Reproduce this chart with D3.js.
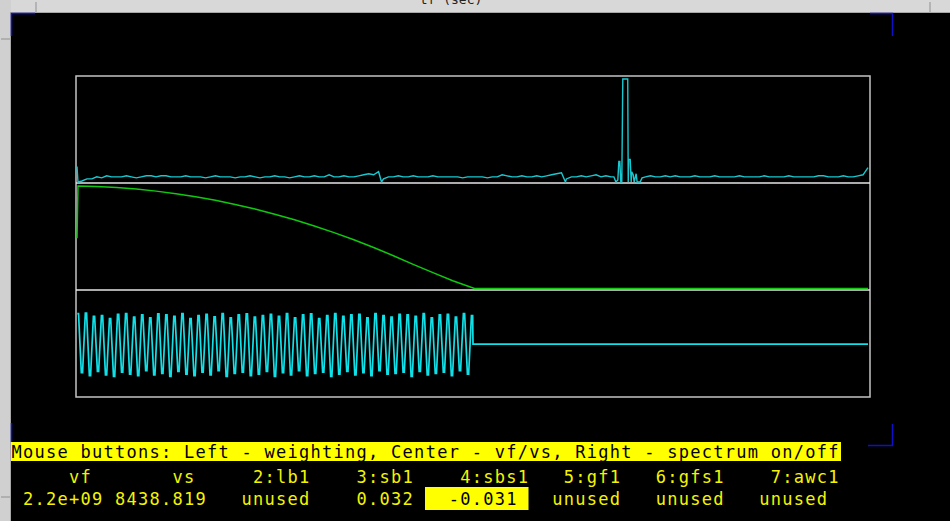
<!DOCTYPE html>
<html>
<head>
<meta charset="utf-8">
<script src="https://cdn.jsdelivr.net/npm/d3@7"></script>
<style>
  body { margin: 0; background: #000; }
  svg { display: block; }
</style>
</head>
<body>
<svg id="chart" width="950" height="521"></svg>
<script>
// spectrum (top panel), amplitude per frequency bin, null = covered by the peak list
var specNoise = [
  0.15,0.01,0.03,0.03,0.05,0.04,0.06,0.05,0.05,0.05,0.06,0.05,0.04,0.05,0.06,0.06,0.05,0.06,0.06,0.05,
  0.05,0.05,0.06,0.05,0.05,0.05,0.04,0.05,0.06,0.05,0.05,0.05,0.04,0.05,0.05,0.06,0.05,0.04,0.05,0.05,
  0.06,0.05,0.05,0.04,0.05,0.06,0.05,0.05,0.06,0.05,0.05,0.07,0.05,0.05,0.06,0.05,0.05,0.06,0.07,0.08,
  0.07,0.10,0.03,0.05,0.05,0.06,0.05,0.05,0.06,0.05,0.05,0.05,0.06,0.05,0.05,0.05,0.05,0.05,0.04,0.05,
  0.05,0.05,0.05,0.04,0.05,0.05,0.07,0.06,0.05,0.05,0.06,0.05,0.05,0.06,0.05,0.06,0.07,0.08,0.09,0.03,
  0.05,0.05,0.06,0.05,0.06,0.07,0.05,0.06,0.05,null,null,null,null,null,null,0.05,0.06,0.05,0.05,0.06,
  0.05,0.06,0.05,0.05,0.05,0.06,0.05,0.05,0.05,0.06,0.05,0.05,0.05,0.05,0.06,0.05,0.05,0.05,0.05,0.06,
  0.05,0.05,0.05,0.05,0.06,0.05,0.05,0.05,0.05,0.05,0.06,0.06,0.05,0.05,0.05,0.06,0.05,0.05,0.06,0.07,
  0.14
];
// extra spectrum points (fractional bins): drop-outs and the peak cluster
var specExtraBins = [0.2, 61.6, 98.8,
  108.6, 109.0, 109.4, 109.6, 109.8, 110.0, 110.2, 110.4, 111.4, 111.5, 111.6, 111.9,
  112.1, 112.2, 112.5, 112.7, 113.1, 113.3, 113.9, 114.3];
var specExtraAmps = [0.0, 0.0, 0.0,
  0.05, 0.0, 0.02, 0.20, 0.20, 0.0, 0.0, 1.0, 1.0, 0.0, 0.22, 0.22,
  0.0, 0.10, 0.07, 0.0, 0.08, 0.0, 0.0, 0.04];

// weighting curve (middle panel)
var gainT = [0, 0.2, 4, 8, 12, 16, 20, 24, 28, 32, 36, 40, 44, 48, 52, 56, 60, 64, 68, 72, 76, 80.4, 160];
var gainV = [0.49, 1.0, 0.995, 0.985, 0.97, 0.95, 0.925, 0.895, 0.86, 0.82, 0.775, 0.725, 0.67,
  0.61, 0.545, 0.475, 0.40, 0.32, 0.235, 0.155, 0.075, 0, 0];

// weighted signal (bottom panel): alternating peaks / troughs, then flat
var oscStart = 0.06, oscPeriod = 1.627, oscTop = 0.25, oscEnd = 80.1, oscFlat = -0.02;
var oscPeaks = [0.84,0.85,0.76,0.78,0.70,0.82,0.84,0.74,0.80,0.72,
  0.83,0.80,0.76,0.84,0.70,0.78,0.82,0.75,0.84,0.72,
  0.80,0.83,0.74,0.78,0.82,0.76,0.84,0.72,0.80,0.83,
  0.70,0.78,0.84,0.76,0.80,0.82,0.72,0.84,0.78,0.74,
  0.82,0.80,0.76,0.84,0.72,0.80,0.82,0.74,0.84,0.78];
var oscTroughs = [-0.82,-0.90,-0.78,-0.88,-0.92,-0.80,-0.86,-0.90,-0.76,-0.88,
  -0.84,-0.92,-0.78,-0.86,-0.90,-0.80,-0.88,-0.76,-0.92,-0.84,
  -0.80,-0.90,-0.86,-0.78,-0.92,-0.82,-0.88,-0.76,-0.90,-0.84,
  -0.80,-0.92,-0.86,-0.78,-0.88,-0.82,-0.90,-0.76,-0.86,-0.84,
  -0.80,-0.92,-0.78,-0.88,-0.84,-0.80,-0.90,-0.76,-0.86];

// text rows
var bannerText = "Mouse buttons: Left - weighting, Center - vf/vs, Right - spectrum on/off";
var headLabels = ["vf", "vs", "2:lb1", "3:sb1", "4:sbs1", "5:gf1", "6:gfs1", "7:awc1"];
var headWidths = [7, 9, 10, 9, 10, 8, 9, 10];
var valLabels = ["2.2e+09", "8438.819", "unused", "0.032", "-0.031", "unused", "unused", "unused"];
var valWidths = [8, 9, 9, 9, 9, 9, 9, 9];
var selectedField = 4;

// layout
var frame = { left: 76, right: 870, top: 76, bottom: 397 },
    panelH = (frame.bottom - frame.top) / 3,
    charW = 11.5, textX0 = 11;

var svg = d3.select("#chart");

// window chrome
svg.append("rect").attr("x", 0).attr("y", 0).attr("width", 950).attr("height", 521).attr("fill", "#000");
svg.append("rect").attr("x", 0).attr("y", 0).attr("width", 950).attr("height", 13).attr("fill", "#d8d8d8");
svg.append("rect").attr("x", 0).attr("y", 0).attr("width", 11).attr("height", 521).attr("fill", "#d0d0d0");
svg.append("line").attr("x1", 11).attr("x2", 950).attr("y1", 12.5).attr("y2", 12.5).attr("stroke", "#a8a8a8");
svg.append("line").attr("x1", 10.5).attr("x2", 10.5).attr("y1", 12).attr("y2", 521).attr("stroke", "#a8a8a8");
[[36, 2, 36, 12], [930, 2, 930, 12], [1, 39, 10, 39], [1, 497, 10, 497]].forEach(function (d) {
  svg.append("line").attr("x1", d[0]).attr("y1", d[1]).attr("x2", d[2]).attr("y2", d[3]).attr("stroke", "#909090");
});
svg.append("text")
  .attr("x", 451).attr("y", 4)
  .attr("text-anchor", "middle")
  .style("font-family", "DejaVu Sans Mono").style("font-size", "13px")
  .attr("fill", "#222")
  .text("tf (sec)");

// blue corner marks
var blue = "#1010c8";
["M11.5,36 V13.5 H35", "M870,13.5 H892.5 V36", "M11.5,423 V442", "M892.5,424 V445.5 H868"].forEach(function (p) {
  svg.append("path").attr("d", p).attr("fill", "none").attr("stroke", blue).attr("stroke-width", 1.5);
});

// scales
var x = d3.scaleLinear().domain([0, 160]).range([77, 868]);
var ySpec = d3.scaleLinear().domain([0, 1]).range([182, 79]);
var yGain = d3.scaleLinear().domain([0, 1]).range([288.5, 186]);
var yOsc = d3.scaleLinear().domain([-1.5, 1.5]).range([frame.bottom, frame.top + 2 * panelH]);

// frame and dividers
svg.append("rect")
  .attr("x", frame.left).attr("y", frame.top)
  .attr("width", frame.right - frame.left).attr("height", frame.bottom - frame.top)
  .attr("fill", "none").attr("stroke", "#c4c4c4").attr("stroke-width", 1.5);
[1, 2].forEach(function (k) {
  svg.append("line")
    .attr("x1", frame.left).attr("x2", frame.right)
    .attr("y1", frame.top + k * panelH).attr("y2", frame.top + k * panelH)
    .attr("stroke", "#e6e6e6").attr("stroke-width", 1.5);
});

var line = d3.line().x(function (d) { return x(d[0]); });

// spectrum
var spec = [];
specNoise.forEach(function (v, i) { if (v !== null) spec.push([i, v]); });
specExtraBins.forEach(function (b, i) { spec.push([b, specExtraAmps[i]]); });
spec.sort(function (a, b) { return a[0] - b[0]; });

svg.append("path")
  .datum(spec)
  .attr("fill", "none")
  .attr("stroke", "#18c8d0")
  .attr("stroke-width", 1.4)
  .attr("d", line.y(function (d) { return ySpec(d[1]); }));

// weighting curve
svg.append("path")
  .datum(d3.zip(gainT, gainV))
  .attr("fill", "none")
  .attr("stroke", "#10c810")
  .attr("stroke-width", 1.5)
  .attr("d", line.y(function (d) { return yGain(d[1]); }));

// oscillation, short flat top/bottom on each extreme
var osc = [];
oscPeaks.forEach(function (p, k) {
  var t = oscStart + k * oscPeriod;
  osc.push([t, p], [t + oscTop, p]);
  if (k < oscTroughs.length) {
    var tt = t + oscPeriod / 2;
    osc.push([tt, oscTroughs[k]], [tt + oscTop, oscTroughs[k]]);
  }
});
osc.push([oscEnd, oscFlat]);
osc.push([160, oscFlat]);

svg.append("path")
  .datum(osc)
  .attr("fill", "none")
  .attr("stroke", "#10e0e8")
  .attr("stroke-width", 1.7)
  .attr("d", line.y(function (d) { return yOsc(d[1]); }));

// text area
var mono = "DejaVu Sans Mono";
svg.append("rect")
  .attr("x", 11).attr("y", 442)
  .attr("width", bannerText.length * charW + 2).attr("height", 19)
  .attr("fill", "#ffff00");
svg.append("text")
  .attr("x", textX0 + 0.5).attr("y", 457.5)
  .attr("textLength", bannerText.length * charW - 1)
  .attr("lengthAdjust", "spacing")
  .style("font-family", mono).style("font-size", "17px")
  .attr("fill", "#000")
  .text(bannerText);

function padRow(labels, widths) {
  return labels.map(function (s, i) { return s.padStart(widths[i], " "); }).join("");
}
var headRow = padRow(headLabels, headWidths);
var valRow = padRow(valLabels, valWidths);

// highlighted field box
var selStart = d3.sum(valWidths.slice(0, selectedField)),
    selEnd = selStart + valWidths[selectedField];
svg.append("rect")
  .attr("x", textX0 + (selStart + 1) * charW)
  .attr("y", 487)
  .attr("width", (selEnd - selStart) * charW)
  .attr("height", 23)
  .attr("fill", "#ffff00");

svg.append("text")
  .attr("x", textX0 + 0.5).attr("y", 482.5)
  .attr("textLength", headRow.length * charW - 1)
  .attr("lengthAdjust", "spacing")
  .style("font-family", mono).style("font-size", "17px").style("white-space", "pre")
  .attr("fill", "#f4f400")
  .text(headRow);

var valText = svg.append("text")
  .attr("x", textX0 + 0.5).attr("y", 504.5)
  .attr("textLength", valRow.length * charW - 1)
  .attr("lengthAdjust", "spacing")
  .style("font-family", mono).style("font-size", "17px").style("white-space", "pre");
valLabels.forEach(function (s, i) {
  valText.append("tspan")
    .attr("fill", i === selectedField ? "#000" : "#f4f400")
    .text(s.padStart(valWidths[i], " "));
});
</script>
</body>
</html>
